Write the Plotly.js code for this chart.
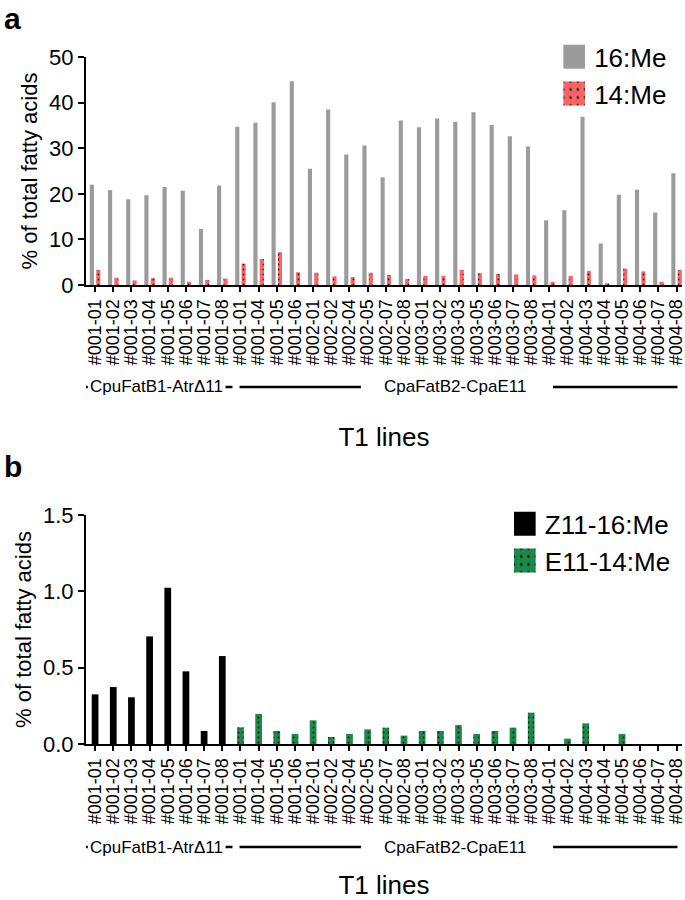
<!DOCTYPE html>
<html>
<head>
<meta charset="utf-8">
<script src="https://cdn.plot.ly/plotly-3.0.1.min.js"></script>
<style>html,body{margin:0;padding:0;background:#fff;}#chart{width:685px;height:900px;}</style>
</head>
<body>
<div id="chart"></div>
<script>
// T1 line labels (x categories)
const lineLabels = ['#001-01','#001-02','#001-03','#001-04','#001-05','#001-06','#001-07','#001-08',
  '#001-01','#001-04','#001-05','#001-06',
  '#002-01','#002-02','#002-04','#002-05','#002-07','#002-08',
  '#003-01','#003-02','#003-03','#003-05','#003-06','#003-07','#003-08',
  '#004-01','#004-02','#004-03','#004-04','#004-05','#004-06','#004-07','#004-08'];
// panel a
const me16 = [22.0,20.8,18.8,19.7,21.5,20.7,12.3,21.8,
  34.7,35.6,40.1,44.7,
  25.5,38.5,28.6,30.6,23.6,36.1,
  34.6,36.5,35.8,37.9,35.1,32.6,30.4,
  14.2,16.4,36.9,9.1,19.8,20.9,15.9,24.5];
const me14 = [3.3,1.6,1.0,1.5,1.6,0.7,1.1,1.4,
  4.7,5.7,7.2,2.8,
  2.7,1.9,1.75,2.7,2.2,1.3,
  2.0,2.0,3.3,2.6,2.4,2.3,2.1,
  0.7,2.0,3.1,0.4,3.6,3.0,0.7,3.3];
// panel b
const z11_16 = [0.325,0.373,0.306,0.705,1.024,0.476,0.085,0.576,
  0,0,0,0, 0,0,0,0,0,0, 0,0,0,0,0,0,0, 0,0,0,0,0,0,0,0];
const e11_14 = [0,0,0,0,0,0,0,0,
  0.109,0.197,0.085,0.066,
  0.155,0.046,0.066,0.096,0.107,0.055,
  0.085,0.085,0.124,0.066,0.085,0.107,0.205,
  0,0.035,0.135,0,0.066,0,0,0];
const seriesNames = ['16:Me','14:Me','Z11-16:Me','E11-14:Me'];
const groupNames = ['CpuFatB1-AtrΔ11','CpaFatB2-CpaE11'];
const panelLetters = ['a','b'];
const xTitle = 'T1 lines';
const yTitle = '% of total fatty acids';

const idx = lineLabels.map((_, i) => i);
const FONT = 'Liberation Sans, Arial, Helvetica, sans-serif';

const traces = [
  {type:'bar', x: idx, y: me16, name: seriesNames[0], xaxis:'x', yaxis:'y',
   marker:{color:'#9b9b9b', line:{width:0}}, legend:'legend'},
  {type:'bar', x: idx, y: me14, name: seriesNames[1], xaxis:'x', yaxis:'y',
   marker:{color:'#fa6464', line:{width:0}, pattern:{shape:'.', bgcolor:'#fa6464', fgcolor:'#222', size:5, solidity:0.1}}, legend:'legend'},
  {type:'bar', x: idx, y: z11_16, name: seriesNames[2], xaxis:'x2', yaxis:'y2',
   width:0.37, offset:-0.185,
   marker:{color:'#000000', line:{width:0}}, legend:'legend2'},
  {type:'bar', x: idx, y: e11_14, name: seriesNames[3], xaxis:'x2', yaxis:'y2',
   width:0.37, offset:-0.185,
   marker:{color:'#1b8a48', line:{width:0}, pattern:{shape:'.', bgcolor:'#1b8a48', fgcolor:'#111', size:5, solidity:0.1}}, legend:'legend2'}
];

const xCommon = {
  tickmode:'array', tickvals: idx, ticktext: lineLabels, tickangle:-90, ticklabeloverflow:'allow',
  range:[-0.5, 32.3], showline:true, linecolor:'#000', linewidth:2,
  ticks:'outside', ticklen:5, tickwidth:2, tickcolor:'#000',
  showgrid:false, zeroline:false,
  tickfont:{family:FONT, size:18, color:'#000'}
};
const yCommon = {
  showline:true, linecolor:'#000', linewidth:2, ticks:'outside', ticklen:6, tickwidth:2, tickcolor:'#000',
  showgrid:false, zeroline:false, tickfont:{family:FONT, size:22, color:'#000'}
};

const yA = [1-285/900, 1-57/900];
const yB = [1-744/900, 1-515/900];
const xD = [86/685, 682/685];

const layout = {
  width:685, height:900, margin:{l:0,r:0,t:0,b:0},
  paper_bgcolor:'#fff', plot_bgcolor:'#fff',
  barmode:'group', bargap:0.3, bargroupgap:0.35,
  font:{family:FONT, color:'#000'},
  xaxis: Object.assign({}, xCommon, {domain:xD, anchor:'y',
    title:{text:xTitle, font:{family:FONT, size:26}, standoff:64}}),
  yaxis: Object.assign({}, yCommon, {domain:yA, anchor:'x', range:[0,50], tickvals:[0,10,20,30,40,50],
    title:{text:yTitle, font:{family:FONT, size:22}, standoff:5}}),
  xaxis2: Object.assign({}, xCommon, {domain:xD, anchor:'y2',
    title:{text:xTitle, font:{family:FONT, size:26}, standoff:64}}),
  yaxis2: Object.assign({}, yCommon, {domain:yB, anchor:'x2', range:[0,1.5], tickvals:[0,0.5,1.0,1.5], tickformat:'.1f',
    title:{text:yTitle, font:{family:FONT, size:22}, standoff:5}}),
  legend:{x:0.809, y:0.963, xanchor:'left', yanchor:'top', font:{family:FONT, size:26}, bgcolor:'rgba(0,0,0,0)'},
  legend2:{x:0.737, y:0.444, xanchor:'left', yanchor:'top', font:{family:FONT, size:26}, bgcolor:'rgba(0,0,0,0)'},
  shapes:[], annotations:[]
};

// group bracket lines and labels for both panels
[['x', 1-387/900], ['x2', 1-847/900]].forEach(([xr, yy]) => {
  const segs = [[-0.72,-0.4],[7.18,7.56],[7.95,14.63],[25.2,32.05]];
  segs.forEach(s => layout.shapes.push({type:'line', xref:xr, yref:'paper', x0:s[0], x1:s[1], y0:yy, y1:yy,
    line:{color:'#000', width:2.5}}));
  layout.annotations.push({xref:xr, yref:'paper', x:3.37, y:yy, text:groupNames[0], showarrow:false,
    xanchor:'center', yanchor:'middle', font:{family:FONT, size:17, color:'#000'}});
  layout.annotations.push({xref:xr, yref:'paper', x:19.78, y:yy, text:groupNames[1], showarrow:false,
    xanchor:'center', yanchor:'middle', font:{family:FONT, size:17, color:'#000'}});
});
layout.annotations.push({xref:'paper', yref:'paper', x:2/685, y:1, text:'<b>'+panelLetters[0]+'</b>', showarrow:false,
  xanchor:'left', yanchor:'top', font:{family:FONT, size:30, color:'#000'}});
layout.annotations.push({xref:'paper', yref:'paper', x:2/685, y:1-448/900, text:'<b>'+panelLetters[1]+'</b>', showarrow:false,
  xanchor:'left', yanchor:'top', font:{family:FONT, size:30, color:'#000'}});

Plotly.newPlot('chart', traces, layout, {staticPlot:true}).then(gd => {
  gd.querySelectorAll('.legendpoints path').forEach(p => {
    p.setAttribute('transform', 'translate(20,0) scale(1.8,2.0)');
  });
});
</script>
</body>
</html>
